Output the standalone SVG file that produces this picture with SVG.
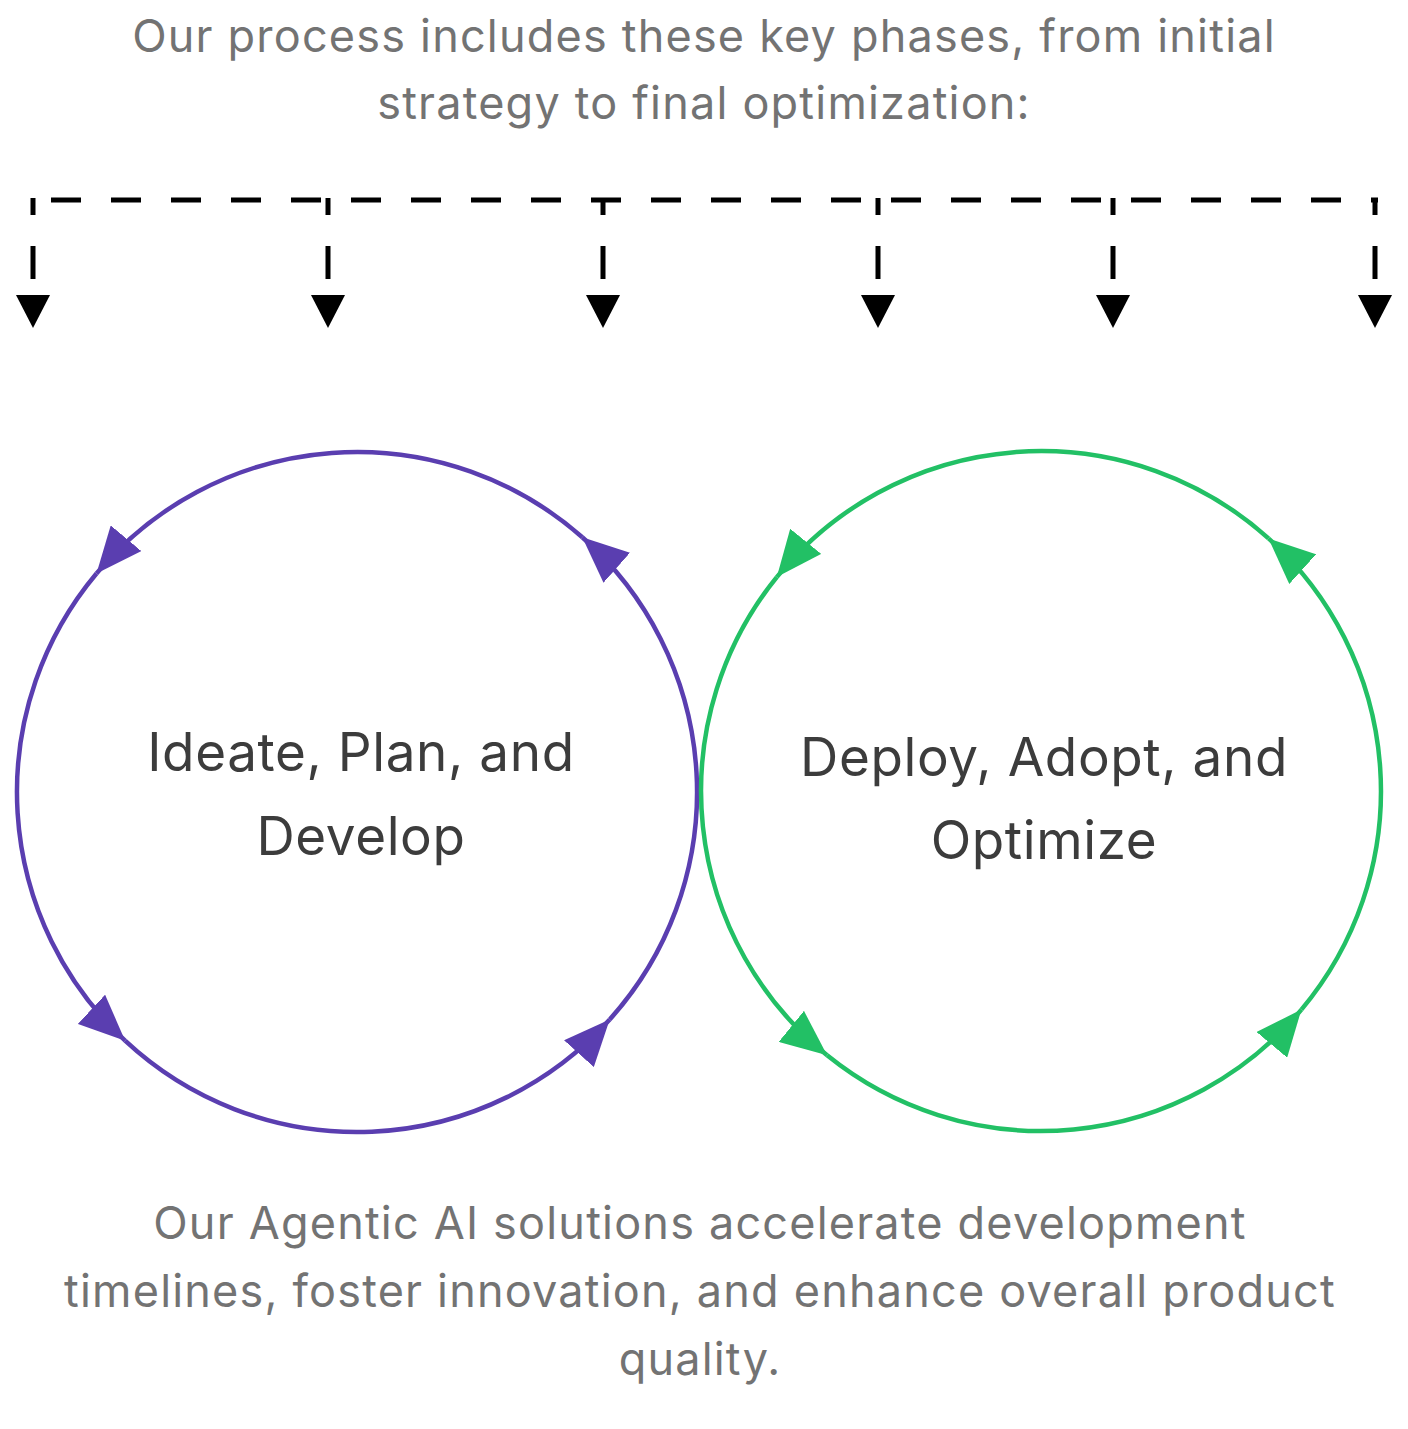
<svg xmlns="http://www.w3.org/2000/svg" width="1408" height="1429" viewBox="0 0 1408 1429">
<style>
.cap{font-family:Inter,"Liberation Sans",sans-serif;font-size:45px;fill:#737373;text-anchor:middle;letter-spacing:1.2px}
.lbl{font-family:Inter,"Liberation Sans",sans-serif;font-size:53px;fill:#3c3c3c;text-anchor:middle;letter-spacing:0.6px}
.dash{fill:none;stroke:#000;stroke-width:5;stroke-dasharray:30 30}
.vd{fill:none;stroke:#000;stroke-width:5;stroke-dasharray:17 31 33 40}
.p{fill:none;stroke:#5a3eb0;stroke-width:4.5}
.g{fill:none;stroke:#22c065;stroke-width:4.5}
</style>
<defs>
<marker id="ap" markerUnits="userSpaceOnUse" markerWidth="46" markerHeight="40" viewBox="0 0 46 40" refX="46" refY="20" orient="auto"><path d="M0,0 L46,20 L0,40 z" fill="#5a3eb0"/></marker>
<marker id="ag" markerUnits="userSpaceOnUse" markerWidth="46" markerHeight="40" viewBox="0 0 46 40" refX="46" refY="20" orient="auto"><path d="M0,0 L46,20 L0,40 z" fill="#22c065"/></marker>
<marker id="ak" markerUnits="userSpaceOnUse" markerWidth="33" markerHeight="34" viewBox="0 0 33 34" refX="0" refY="17" orient="auto"><path d="M0,0 L33,17 L0,34 z" fill="#000"/></marker>
</defs>
<text class="cap" x="704" y="52">Our process includes these key phases, from initial</text>
<text class="cap" x="704" y="119">strategy to final optimization:</text>
<g id="connectors">
<path class="dash" d="M30,200 H1378" stroke-dashoffset="-21"/>
<path class="vd" d="M33,198 V295" marker-end="url(#ak)"/>
<path class="vd" d="M328,198 V295" marker-end="url(#ak)"/>
<path class="vd" d="M603,198 V295" marker-end="url(#ak)"/>
<path class="vd" d="M878,198 V295" marker-end="url(#ak)"/>
<path class="vd" d="M1113,198 V295" marker-end="url(#ak)"/>
<path class="vd" d="M1375,198 V295" marker-end="url(#ak)"/>
</g>
<g id="left">
<path class="p" d="M582.3,537.3 A340,340 0 0 0 96.5,573.5" marker-end="url(#ap)"/>
<path class="p" d="M96.5,573.5 A340,340 0 0 0 125.1,1040.7" marker-end="url(#ap)"/>
<path class="p" d="M125.1,1040.7 A340,340 0 0 0 609.7,1019.5" marker-end="url(#ap)"/>
<path class="p" d="M609.7,1019.5 A340,340 0 0 0 582.3,537.3" marker-end="url(#ap)"/>
<text class="lbl" x="361" y="771">Ideate, Plan, and</text>
<text class="lbl" x="361" y="855">Develop</text>
</g>
<g id="right">
<path class="g" d="M1268.5,538.4 A340,340 0 0 0 776.8,577.1" marker-end="url(#ag)"/>
<path class="g" d="M776.8,577.1 A340,340 0 0 0 827.1,1055.3" marker-end="url(#ag)"/>
<path class="g" d="M827.1,1055.3 A340,340 0 0 0 1301.4,1009.6" marker-end="url(#ag)"/>
<path class="g" d="M1301.4,1009.6 A340,340 0 0 0 1268.5,538.4" marker-end="url(#ag)"/>
<text class="lbl" x="1044" y="776">Deploy, Adopt, and</text>
<text class="lbl" x="1044" y="859">Optimize</text>
</g>
<text class="cap" x="700" y="1239">Our Agentic AI solutions accelerate development</text>
<text class="cap" x="700" y="1307">timelines, foster innovation, and enhance overall product</text>
<text class="cap" x="700" y="1375">quality.</text>
</svg>
